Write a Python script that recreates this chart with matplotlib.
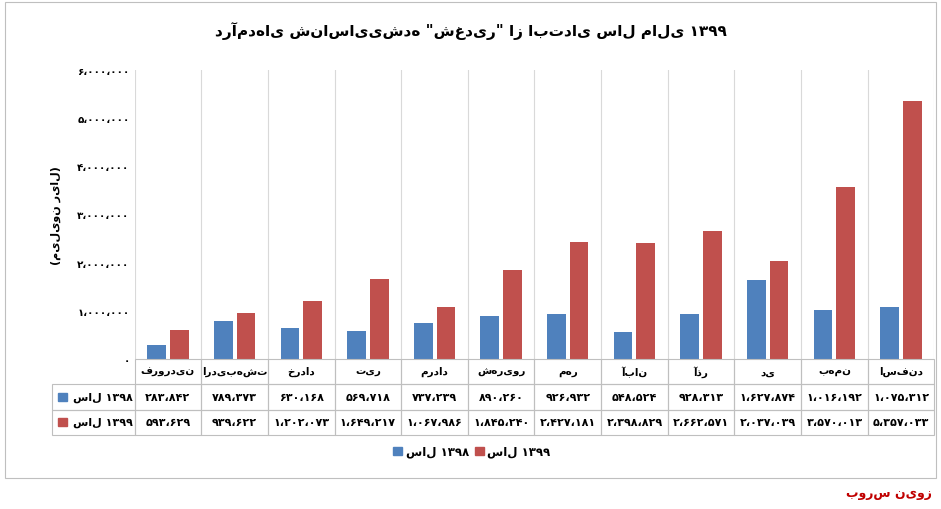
import matplotlib
matplotlib.use("Agg")
import matplotlib.pyplot as plt
from matplotlib.patches import Rectangle

plt.rcParams['font.family'] = ['DejaVu Sans']

months = ["فروردین","اردیبهشت","خرداد","تیر","مرداد","شهریور","مهر","آبان","آذر","دی","بهمن","اسفند"]
s1398 = [283842,789373,630168,569718,737239,890260,926932,548524,928313,1627874,1016192,1075312]
s1399 = [593629,939622,1202073,1649217,1067986,1845240,2427181,2398829,2662571,2037039,3570013,5357033]
yticks = [0,1000000,2000000,3000000,4000000,5000000,6000000]
series_labels = ["سال ۱۳۹۸", "سال ۱۳۹۹"]

PD = str.maketrans("0123456789", "۰۱۲۳۴۵۶۷۸۹")
def fa(n): return f"{n:,}".replace(",", "،").translate(PD)

blue, red = "#4F81BD", "#C0504D"
fig = plt.figure(figsize=(9.41,5.10), dpi=100)
ax = fig.add_axes([0.143, 0.295, 0.85, 0.565])
x = range(len(months))
w = 0.28
ax.bar([i-0.17 for i in x], s1398, w, color=blue, zorder=3)
ax.bar([i+0.17 for i in x], s1399, w, color=red, zorder=3)
ax.set_xlim(-0.5, len(months)-0.5)
ax.set_ylim(0, 6000000)
ax.set_yticks(yticks)
ax.set_yticklabels([fa(v) if v else "۰" for v in yticks], fontsize=7.5, fontweight='bold')
ax.set_xticks([])
for i in range(len(months)+1):
    ax.axvline(i-0.5, color="#d9d9d9", lw=0.8, zorder=1)
for s in ax.spines.values(): s.set_visible(False)
ax.tick_params(axis='y', length=0)
ax.set_ylabel("(میلیون ریال)", fontsize=8, fontweight='bold', labelpad=12)

rowh = 0.05
x0, x1 = 0.143, 0.993
cw = (x1-x0)/len(months)
ybase = 0.295
for r, (vals, col, lab) in enumerate([(None,None,None),(s1398,blue,series_labels[0]),(s1399,red,series_labels[1])]):
    yt = ybase - r*rowh
    for i in range(len(months)):
        txt = months[i] if vals is None else fa(vals[i])
        fig.add_artist(Rectangle((x0+i*cw, yt-rowh), cw, rowh, transform=fig.transFigure, fill=False, ec="#bfbfbf", lw=0.8))
        fig.text(x0+(i+0.5)*cw, yt-rowh/2, txt, ha='center', va='center', fontsize=7.5 if vals is None else 8, fontweight='bold')
    if vals is not None:
        fig.add_artist(Rectangle((0.055, yt-rowh), x0-0.055, rowh, transform=fig.transFigure, fill=False, ec="#bfbfbf", lw=0.8))
        fig.add_artist(Rectangle((0.062, yt-rowh/2-0.008), 0.009, 0.016, transform=fig.transFigure, color=col))
        fig.text(0.078, yt-rowh/2, lab, ha='left', va='center', fontsize=8, fontweight='bold')

fig.text(0.5, 0.94, 'درآمدهای شناسایی‌شده "شغدیر" از ابتدای سال مالی ۱۳۹۹',
         ha='center', va='center', fontsize=11, fontweight='bold')
fig.add_artist(Rectangle((0.418, 0.105), 0.009, 0.016, transform=fig.transFigure, color=blue))
fig.text(0.431, 0.113, series_labels[0], va='center', fontsize=8.5, fontweight='bold')
fig.add_artist(Rectangle((0.505, 0.105), 0.009, 0.016, transform=fig.transFigure, color=red))
fig.text(0.518, 0.113, series_labels[1], va='center', fontsize=8.5, fontweight='bold')
fig.text(0.99, 0.02, "بورس نیوز", ha='right', va='bottom', color="#c00000", fontsize=9, fontweight='bold')
fig.add_artist(Rectangle((0.005,0.06),0.99,0.935, transform=fig.transFigure, fill=False, ec="#bfbfbf", lw=0.8))
fig.savefig("out.png", dpi=100)
